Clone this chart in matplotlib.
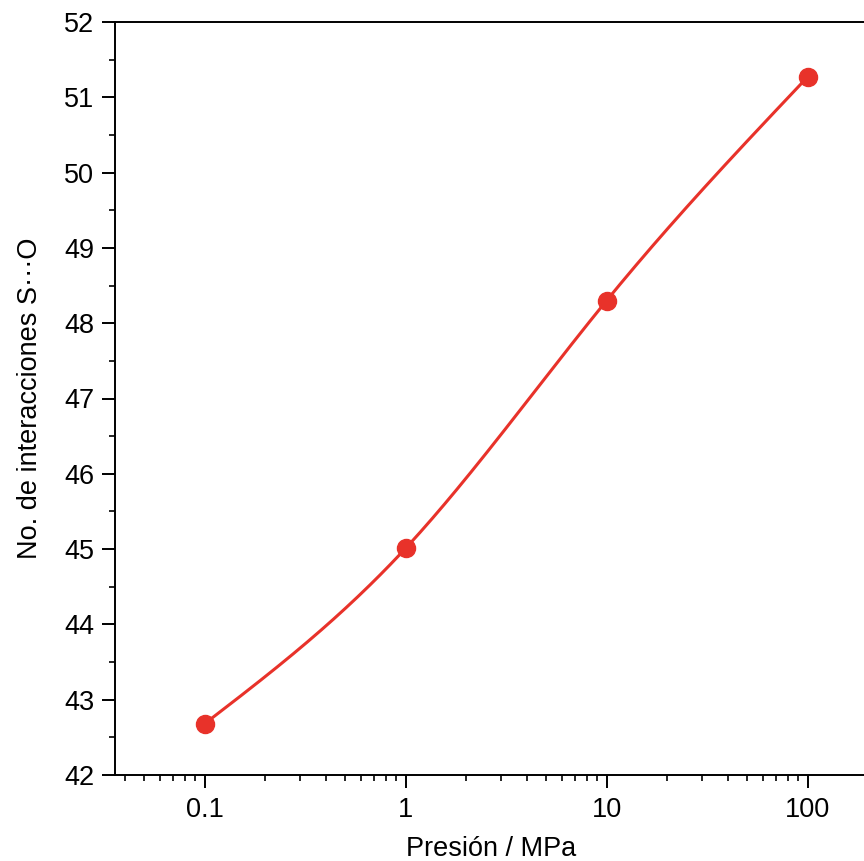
import numpy as np
import matplotlib
matplotlib.use("Agg")
import matplotlib.pyplot as plt
from matplotlib.ticker import LogLocator, MultipleLocator, FixedLocator, FixedFormatter, NullFormatter

plt.rcParams['font.family'] = ['Liberation Sans', 'DejaVu Sans']

pressure = [0.1, 1, 10, 100]
interactions = [42.68, 45.01, 48.30, 51.27]
xtick_labels = ["0.1", "1", "10", "100"]


def natural_spline(x, y, xs):
    x = np.asarray(x, float)
    y = np.asarray(y, float)
    n = len(x)
    h = np.diff(x)
    A = np.zeros((n, n))
    b = np.zeros(n)
    A[0, 0] = A[-1, -1] = 1.0
    for i in range(1, n - 1):
        A[i, i - 1] = h[i - 1]
        A[i, i] = 2 * (h[i - 1] + h[i])
        A[i, i + 1] = h[i]
        b[i] = 6 * ((y[i + 1] - y[i]) / h[i] - (y[i] - y[i - 1]) / h[i - 1])
    M = np.linalg.solve(A, b)
    out = np.empty_like(xs)
    for k, xv in enumerate(xs):
        i = min(max(np.searchsorted(x, xv) - 1, 0), n - 2)
        t0 = x[i + 1] - xv
        t1 = xv - x[i]
        out[k] = (M[i] * t0 ** 3 + M[i + 1] * t1 ** 3) / (6 * h[i]) \
            + (y[i] / h[i] - M[i] * h[i] / 6) * t0 \
            + (y[i + 1] / h[i] - M[i + 1] * h[i] / 6) * t1
    return out


fig = plt.figure(figsize=(8.64, 8.61), dpi=100)
ax = fig.add_axes([114.5 / 864, 1 - 775 / 861, 753 / 864, 753 / 861])

lx = np.log10(pressure)
xs = np.linspace(lx[0], lx[-1], 300)
ys = natural_spline(lx, interactions, xs)
red = '#e8322a'
ax.plot(10 ** xs, ys, color=red, lw=2.2, zorder=2)
ax.plot(pressure, interactions, 'o', color=red, ms=13, zorder=3)

ax.set_xscale('log')
ax.set_xlim(10 ** -1.448, 10 ** 2.298)
ax.set_ylim(42, 52)

ax.xaxis.set_major_locator(FixedLocator(pressure))
ax.xaxis.set_major_formatter(FixedFormatter(xtick_labels))
ax.xaxis.set_minor_locator(LogLocator(base=10, subs=np.arange(2, 10)))
ax.xaxis.set_minor_formatter(NullFormatter())
ax.yaxis.set_major_locator(MultipleLocator(1))
ax.yaxis.set_minor_locator(MultipleLocator(0.5))

for s in ax.spines.values():
    s.set_linewidth(1.4)
ax.tick_params(which='major', direction='out', length=9.5, width=1.4,
               labelsize=19.5)
ax.tick_params(axis='x', which='major', pad=6)
ax.tick_params(axis='y', which='major', pad=5)
ax.tick_params(which='minor', direction='out', length=4.5, width=1.2)
ax.tick_params(top=False, right=False, which='both')

ax.set_xlabel('Presión / MPa', fontsize=19.5, labelpad=10)
ax.set_ylabel('No. de interacciones S···O', fontsize=19.5, labelpad=15)

fig.savefig('out.png', dpi=100)
